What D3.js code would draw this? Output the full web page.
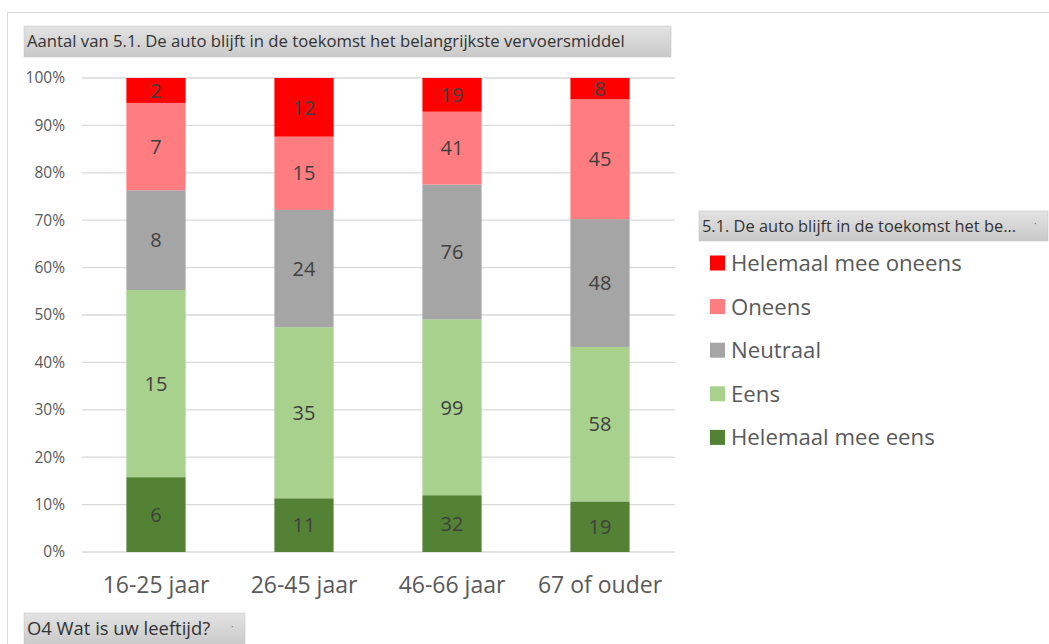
<!DOCTYPE html>
<html><head><meta charset="utf-8">
<script src="https://cdn.jsdelivr.net/npm/d3@7"></script>
<style>body{margin:0;background:#fff;} svg{display:block;font-family:"Open Sans","Noto Sans",sans-serif;}</style>
</head><body><svg id="c" width="1049" height="644"></svg>
<script>
const categories = ["16-25 jaar","26-45 jaar","46-66 jaar","67 of ouder"];
const seriesNames = ["Helemaal mee eens","Eens","Neutraal","Oneens","Helemaal mee oneens"];
const helemaalEens = [6,11,32,19];
const eens = [15,35,99,58];
const neutraal = [8,24,76,48];
const oneens = [7,15,41,45];
const helemaalOneens = [2,12,19,8];
const colors = ["#548235","#a9d18e","#a5a5a5","#ff7c80","#ff0000"];
const yTicks = [0,0.1,0.2,0.3,0.4,0.5,0.6,0.7,0.8,0.9,1];
const titleText = "Aantal van 5.1. De auto blijft in de toekomst het belangrijkste vervoersmiddel";
const legendTitle = "5.1. De auto blijft in de toekomst het be...";
const axisButton = "O4 Wat is uw leeftijd?";

const svg = d3.select("#c");
const defs = svg.append("defs");
const g1 = defs.append("linearGradient").attr("id","btn").attr("x1",0).attr("y1",0).attr("x2",0).attr("y2",1);
g1.append("stop").attr("offset","0%").attr("stop-color","#e3e3e3");
g1.append("stop").attr("offset","100%").attr("stop-color","#c9c9c9");

// outer border
svg.append("rect").attr("x",7.5).attr("y",12.5).attr("width",1060).attr("height",660)
  .attr("fill","none").attr("stroke","#d9d9d9");

const data = categories.map((c,i)=>{
  const vals=[helemaalEens[i],eens[i],neutraal[i],oneens[i],helemaalOneens[i]];
  const tot=d3.sum(vals);
  const o={cat:c,total:tot};
  seriesNames.forEach((s,k)=>o[s]=vals[k]/tot);
  o.raw=vals;
  return o;
});
const stack = d3.stack().keys(seriesNames)(data);

const x = d3.scaleBand().domain(categories).range([82,674]).paddingInner(0.6).paddingOuter(0.3);
const y = d3.scaleLinear().domain([0,1]).range([552,78]);

// gridlines
svg.append("g").selectAll("line").data(yTicks).join("line")
  .attr("x1",82).attr("x2",675).attr("y1",d=>y(d)).attr("y2",d=>y(d))
  .attr("stroke","#d9d9d9").attr("stroke-width",1.3);

// y axis labels
const yAxis = d3.axisLeft(y).tickValues(yTicks).tickFormat(d3.format(".0%")).tickSize(0).tickPadding(0);
const ya = svg.append("g").attr("transform","translate(65,0)").call(yAxis);
ya.select(".domain").remove();
ya.selectAll("text").attr("font-size",15.5).attr("fill","#595959").attr("font-family","'Open Sans','Noto Sans',sans-serif");

// bars
stack.forEach((layer,k)=>{
  const g = svg.append("g");
  g.selectAll("rect").data(layer).join("rect")
    .attr("x",d=>x(d.data.cat)).attr("width",x.bandwidth())
    .attr("y",d=>y(d[1])).attr("height",d=>y(d[0])-y(d[1]))
    .attr("fill",colors[k]);
  g.selectAll("text").data(layer).join("text")
    .attr("x",d=>x(d.data.cat)+x.bandwidth()/2)
    .attr("y",d=>(y(d[0])+y(d[1]))/2)
    .attr("dy","0.36em").attr("text-anchor","middle")
    .attr("font-size",20).attr("fill","#404040")
    .text(d=>d.data.raw[k]);
});

// x axis labels
const xAxis = d3.axisBottom(x).tickSize(0).tickPadding(0);
const xa = svg.append("g").attr("transform","translate(0,576)").call(xAxis);
xa.select(".domain").remove();
xa.selectAll("text").attr("font-size",23).attr("fill","#595959").attr("dy","0.75em").attr("font-family","'Open Sans','Noto Sans',sans-serif");

// buttons
function button(xp,yp,w,h,txt,fs,dot){
  const b=svg.append("g");
  b.append("rect").attr("x",xp).attr("y",yp).attr("width",w).attr("height",h).attr("fill","url(#btn)").attr("stroke","#c0c0c0").attr("stroke-width",0.5);
  b.append("text").attr("x",xp+3).attr("y",yp+h/2).attr("dy","0.35em").attr("font-size",fs).attr("fill","#333").text(txt);
  if(dot) b.append("text").attr("x",xp+w-14).attr("y",yp+h/2).attr("dy","0.1em").attr("font-size",10).attr("fill","#777").text("·");
}
button(24,26,647,31,titleText,16.7,false);
button(699,211,349,30,legendTitle,16.4,true);
button(24,613,221,32,axisButton,18.4,true);

// legend
const legOrder = seriesNames.map((s,k)=>({s,c:colors[k]})).reverse();
const lg = svg.append("g").selectAll("g").data(legOrder).join("g")
  .attr("transform",(d,i)=>`translate(710,${263+i*43.6})`);
lg.append("rect").attr("x",0).attr("y",-7.5).attr("width",15).attr("height",15).attr("fill",d=>d.c);
lg.append("text").attr("x",21).attr("dy","0.36em").attr("font-size",22.2).attr("fill","#595959").text(d=>d.s);
</script></body></html>
